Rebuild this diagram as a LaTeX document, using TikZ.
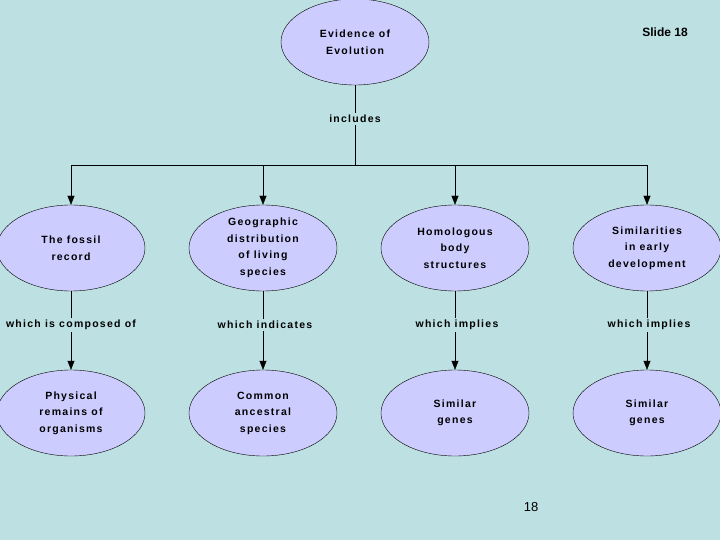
\documentclass[tikz,border=0pt]{standalone}
\usepackage{fontspec}
\setmainfont{Liberation Sans}[LetterSpace=12]
\usetikzlibrary{arrows.meta,shapes.geometric}
\definecolor{bgcol}{HTML}{BDE0E2}
\definecolor{ovalcol}{HTML}{CCCCFF}
\tikzset{
  oval/.style={ellipse, draw=black, fill=ovalcol, minimum width=148pt, minimum height=86pt,
    align=center, inner sep=0pt, font=\bfseries\fontsize{10.5}{16.5}\selectfont},
  linkword/.style={fill=bgcol, inner sep=2pt, font=\bfseries\fontsize{10.5}{12}\selectfont},
  arr/.style={-{Triangle[length=9pt,width=7pt]}},
}
\begin{document}
\begin{tikzpicture}[x=1pt, y=-1pt]
\fill[bgcol] (0,0) rectangle (720,540);
\useasboundingbox (0,0) rectangle (720,540);

%% Top
\node[oval] (evol) at (355,42) {Evidence of\\Evolution};
\node[linkword] (incl) at (355,119) {includes};
\node[font=\bfseries\fontsize{12}{14}\selectfont\addfontfeatures{LetterSpace=0}] (slide) at (665,32) {Slide 18};
\node[font=\fontsize{13}{15}\selectfont\addfontfeatures{LetterSpace=0}] (pnum) at (531,507) {18};
\coordinate (bus) at (355,165);
\draw (evol.south) -- (incl);
\draw (incl) -- (bus);
\draw (71,165) -- (647,165);

%% Columns
\node[oval] (fossil) at (71,248) {The fossil\\record};
\node[oval] (geo) at (263,248) {Geographic\\distribution\\of living\\species};
\node[oval] (homo) at (455,248) {Homologous\\body\\structures};
\node[oval] (early) at (647,248) {Similarities\\in early\\development};

\node[linkword] (l1) at (71,325) {which is composed of};
\node[linkword] (l2) at (265,325) {which indicates};
\node[linkword] (l3) at (457,325) {which implies};
\node[linkword] (l4) at (649,325) {which implies};

\node[oval] (phys) at (71,413) {Physical\\remains of\\organisms};
\node[oval] (comm) at (263,413) {Common\\ancestral\\species};
\node[oval] (gen1) at (455,413) {Similar\\genes};
\node[oval] (gen2) at (647,413) {Similar\\genes};

\foreach \a/\l/\b in {fossil/l1/phys, geo/l2/comm, homo/l3/gen1, early/l4/gen2} {
  \draw[arr] (\a.south |- bus) -- (\a.north);
  \draw (\a.south) -- (\a.south |- \l.north);
  \draw[arr] (\b.north |- \l.south) -- (\b.north);
}
\end{tikzpicture}
\end{document}
